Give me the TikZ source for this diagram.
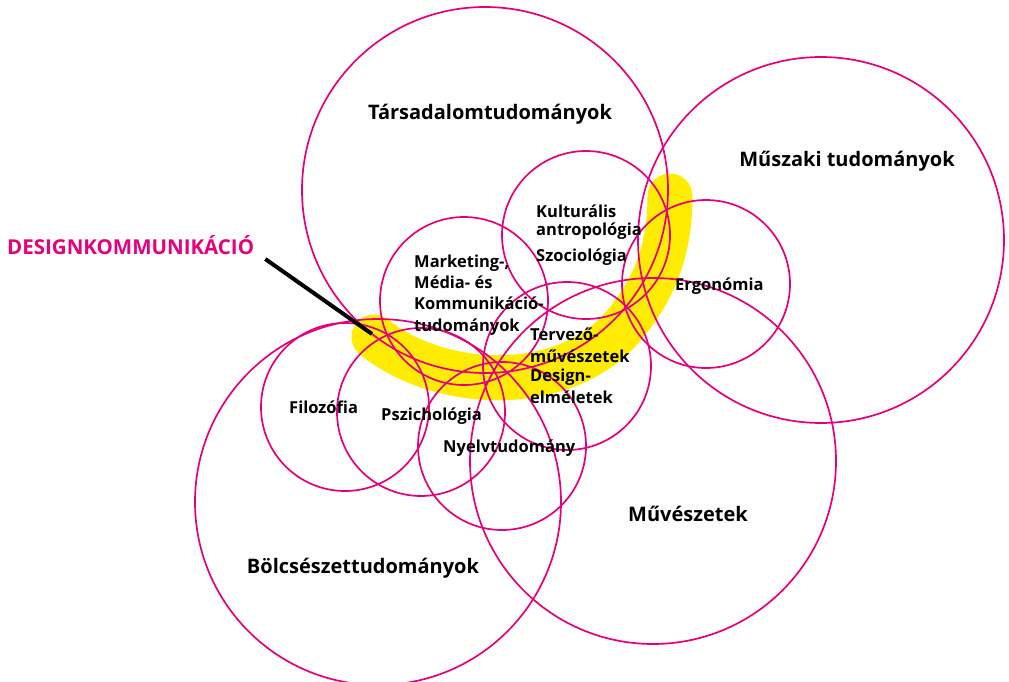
\documentclass[tikz,border=0pt]{standalone}
\usepackage{fontspec}
\setmainfont{Open Sans}
\definecolor{rosa}{RGB}{230,0,126}
\definecolor{sarga}{RGB}{255,236,0}
\tikzstyle{big field}=[circle,draw=rosa,line width=1.7pt,minimum size=366pt]
\tikzstyle{small field}=[circle,draw=rosa,line width=1.7pt,minimum size=168pt]
\tikzstyle{big label}=[font=\bfseries\fontsize{20}{24}\selectfont,anchor=base]
\tikzstyle{small label}=[font=\bfseries\fontsize{16.5}{21.3}\selectfont,align=left,anchor=base west]
\tikzstyle{title label}=[font=\bfseries\fontsize{20.5}{24}\selectfont,text=rosa,anchor=base west]
\tikzstyle{band}=[draw=sarga,line width=45pt,line cap=round]
\tikzstyle{pointer}=[draw=black,line width=4pt]

\begin{document}
\begin{tikzpicture}[x=1pt,y=-1pt,inner sep=0pt]
  \useasboundingbox (0,0) rectangle (1009,682);

  % the yellow band under everything
  \coordinate (band left) at (374,337);
  \coordinate (band top) at (670,196);
  \draw[band] (band left) .. controls (440,390) and (560,395) .. (620,330)
    .. controls (660,285) and (670,240) .. (band top);

  % the four big fields
  \node[big field] (tarsadalom circle) at (485,190) {};
  \node[big field] (muszaki circle) at (821,240) {};
  \node[big field] (muveszet circle) at (653,461) {};
  \node[big field] (bolcsesz circle) at (378,502) {};

  % the small fields
  \foreach \name/\x/\y in {kultur/586/235, ergo/706/284, marketing/464/301,
      tervezo/567/366, filozofia/345/407, pszicho/421/412, nyelv/502/446} {
    \node[small field] (\name \space circle) at (\x,\y) {};
  }

  \node[big label] (tarsadalom) at (490,120) {Társadalomtudományok};
  \node[big label] (muszaki) at (847,166) {Műszaki tudományok};
  \node[big label] (muveszet) at (688,521) {Művészetek};
  \node[big label] (bolcsesz) at (363,573) {Bölcsészettudományok};

  % multi-line labels sit on their last line
  \node[small label,font=\bfseries\fontsize{16.5}{18}\selectfont] (kultur)
    at (536,235) {Kulturális\\antropológia};
  \node[small label] (szocio) at (536,261) {Szociológia};
  \node[small label] (marketing) at (414,331)
    {Marketing-,\\Média- és\\Kommunikáció-\\tudományok};
  \node[small label] (tervezo) at (530,362) {Tervező-\\művészetek};
  \node[small label] (design) at (530,403) {Design-\\elméletek};
  \node[small label] (ergo) at (675,290) {Ergonómia};
  \node[small label] (filozofia) at (289,413) {Filozófia};
  \node[small label] (pszicho) at (381,420) {Pszichológia};
  \node[small label] (nyelv) at (443,452) {Nyelvtudomány};

  \node[title label] (designkomm) at (7,254) {DESIGNKOMMUNIKÁCIÓ};
  \coordinate (pointer tip) at (372,334);
  \draw[pointer] ([shift={(11,5)}]designkomm.base east) -- (pointer tip);
\end{tikzpicture}
\end{document}
